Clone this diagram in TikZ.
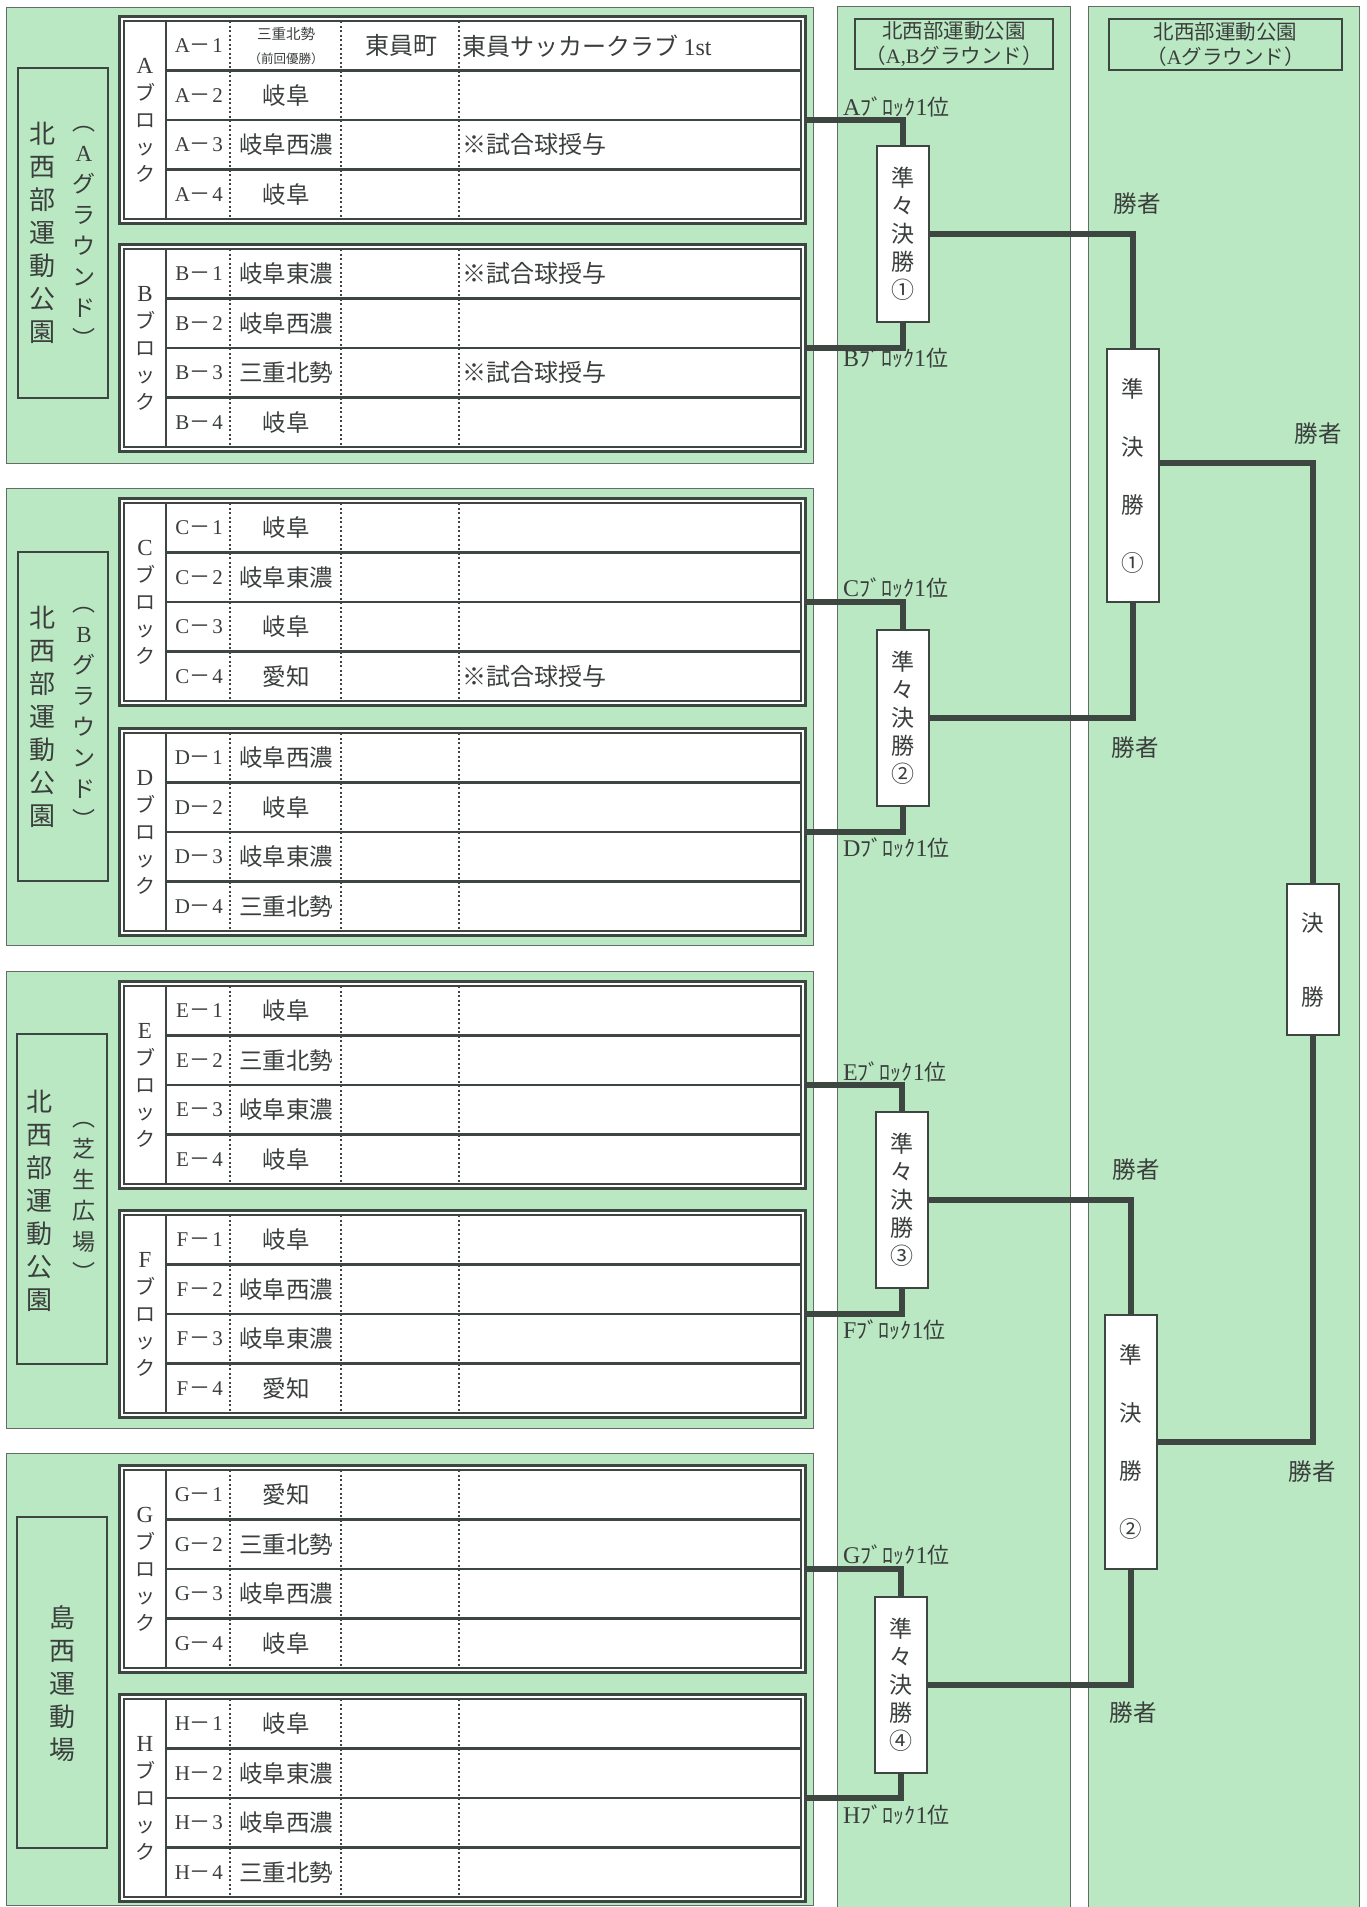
\documentclass[tikz,border=0pt]{standalone}
\usepackage{fontspec}
\setmainfont{Liberation Serif}
\newfontfamily\jp{Noto Sans CJK JP}
\newfontfamily\lat{Liberation Serif}
\definecolor{grn}{RGB}{186,232,195}
\definecolor{lineC}{RGB}{62,70,66}
\definecolor{txtC}{RGB}{58,62,60}
\newcommand{\fw}[1]{\makebox[17.5pt]{#1}}
\tikzset{
  panel/.style={draw=lineC!80, line width=1pt, fill=grn},
  venue/.style={draw=lineC, line width=2.5pt, fill=grn, minimum width=90pt, inner sep=0pt},
  vtxt/.style={font=\jp\fontsize{26}{33}\selectfont, align=center, inner sep=0pt, text=txtC},
  ptxt/.style={font=\jp\fontsize{23}{31}\selectfont, align=center, inner sep=0pt, text=txtC},
  blockframe/.style={draw=lineC, line width=2.6pt, fill=white, minimum width=686pt, minimum height=207pt, inner sep=0pt},
  innerframe/.style={draw=lineC, line width=1.8pt},
  rowline/.style={draw=lineC, line width=2.3pt},
  dotline/.style={draw=lineC, line width=2pt, dash pattern=on 2pt off 2.5pt},
  blklabel/.style={font=\jp\fontsize{20}{27}\selectfont, align=center, inner sep=0pt, text=txtC},
  rowlab/.style={font=\lat\fontsize{21}{21}\selectfont, inner sep=0pt, text=txtC},
  team/.style={font=\jp\fontsize{23.5}{24}\selectfont, align=center, inner sep=0pt, text=txtC},
  celltxt/.style={font=\jp\fontsize{24}{24}\selectfont, inner sep=0pt, text=txtC},
  hdr/.style={draw=lineC, line width=2.8pt, fill=grn, font=\jp\fontsize{20.5}{25}\selectfont, align=center, inner sep=0pt, text=txtC},
  rank/.style={anchor=west, font=\jp\fontsize{22}{22}\selectfont, inner sep=0pt, text=txtC},
  win/.style={font=\jp\fontsize{23.5}{23.5}\selectfont, inner sep=0pt, text=txtC},
  qfbox/.style={draw=lineC, line width=2.5pt, fill=white, minimum width=52pt, minimum height=176pt, inner sep=0pt, font=\jp\fontsize{23}{28}\selectfont, align=center, text=txtC},
  sfbox/.style={draw=lineC, line width=2.5pt, fill=white, minimum width=52pt, inner sep=0pt, font=\jp\fontsize{22.5}{58}\selectfont, align=center, text=txtC},
  finbox/.style={draw=lineC, line width=2.5pt, fill=white, minimum width=52pt, minimum height=151pt, inner sep=0pt, font=\jp\fontsize{22.5}{74}\selectfont, align=center, text=txtC},
  conn/.style={draw=lineC, line width=5.3pt}
}
% block table: #1 name, #2 inner top y, #3 letter, #4-#7 teams
\newcommand{\tblk}[7]{%
  \node[blockframe] (#1) at (462.5,{#2+99}) {};
  \draw[innerframe] (124,#2) rectangle (801,{#2+198});
  \foreach \rr in {1,2,3}{\draw[rowline] (166,{#2+49.5*\rr}) -- (801,{#2+49.5*\rr});}
  \draw[rowline] (166,#2) -- (166,{#2+198});
  \foreach \cc in {230,341,459}{\draw[dotline] (\cc,#2) -- (\cc,{#2+198});}
  \node[blklabel] (#1-lab) at (145,{#2+99}) {\lat\fontsize{23}{27}\selectfont #3\\ブ\\ロ\\ッ\\ク};
  \node[rowlab] (#1-n1) at (200,{#2+24.75}) {\fw{#3}\fw{\jp －}\fw{1}};
  \node[rowlab] (#1-n2) at (200,{#2+74.25}) {\fw{#3}\fw{\jp －}\fw{2}};
  \node[rowlab] (#1-n3) at (200,{#2+123.75}) {\fw{#3}\fw{\jp －}\fw{3}};
  \node[rowlab] (#1-n4) at (200,{#2+173.25}) {\fw{#3}\fw{\jp －}\fw{4}};
  \node[team] (#1-t1) at (286,{#2+24.75}) {#4};
  \node[team] (#1-t2) at (286,{#2+74.25}) {#5};
  \node[team] (#1-t3) at (286,{#2+123.75}) {#6};
  \node[team] (#1-t4) at (286,{#2+173.25}) {#7};
}
\begin{document}
\begin{tikzpicture}[x=1pt,y=-1pt]
\useasboundingbox (0,0) rectangle (1367,1907);
\fill[white] (0,0) rectangle (1367,1907);
% panels
\draw[panel] (6,7) rectangle (813,463);
\draw[panel] (6,488) rectangle (813,945);
\draw[panel] (6,971) rectangle (813,1428);
\draw[panel] (6,1453) rectangle (813,1905);
\draw[panel] (837,6) rectangle (1070,1920);
\draw[panel] (1088,6) rectangle (1359,1920);
% venue boxes
\node[venue, minimum height=330pt] (v1) at (63,233) {};
\node[vtxt] (v1a) at (42,233) {北\\西\\部\\運\\動\\公\\園};
\node[ptxt] (v1b) at (84,237) {︵\\\lat A\\グ\\ラ\\ウ\\ン\\ド\\︶};
\node[venue, minimum height=329pt] (v2) at (63,716.5) {};
\node[vtxt] (v2a) at (42,717) {北\\西\\部\\運\\動\\公\\園};
\node[ptxt] (v2b) at (84,718) {︵\\\lat B\\グ\\ラ\\ウ\\ン\\ド\\︶};
\node[venue, minimum height=330pt] (v3) at (62,1199) {};
\node[vtxt] (v3a) at (40,1201) {北\\西\\部\\運\\動\\公\\園};
\node[ptxt] (v3b) at (84,1202) {︵\\芝\\生\\広\\場\\︶};
\node[venue, minimum height=331pt] (v4) at (62,1682.5) {};
\node[vtxt] (v4a) at (62,1684) {島\\西\\運\\動\\場};
% tables
\tblk{blkA}{21}{A}{\fontsize{14.5}{18.5}\selectfont 三重北勢\\\fontsize{12.5}{18.5}\selectfont（前回優勝）}{岐阜}{岐阜西濃}{岐阜}
\tblk{blkB}{249}{B}{岐阜東濃}{岐阜西濃}{三重北勢}{岐阜}
\tblk{blkC}{503}{C}{岐阜}{岐阜東濃}{岐阜}{愛知}
\tblk{blkD}{733}{D}{岐阜西濃}{岐阜}{岐阜東濃}{三重北勢}
\tblk{blkE}{986}{E}{岐阜}{三重北勢}{岐阜東濃}{岐阜}
\tblk{blkF}{1215}{F}{岐阜}{岐阜西濃}{岐阜東濃}{愛知}
\tblk{blkG}{1470}{G}{愛知}{三重北勢}{岐阜西濃}{岐阜}
\tblk{blkH}{1699}{H}{岐阜}{岐阜東濃}{岐阜西濃}{三重北勢}
% extra cell texts
\node[celltxt] (town) at (401,45.75) {東員町};
\node[celltxt, anchor=west] (club) at (462,45.75) {東員サッカークラブ {\lat 1st}};
\node[celltxt, anchor=west] (ballA3) at (462,144.75) {※試合球授与};
\node[celltxt, anchor=west] (ballB1) at (462,273.75) {※試合球授与};
\node[celltxt, anchor=west] (ballB3) at (462,372.75) {※試合球授与};
\node[celltxt, anchor=west] (ballC4) at (462,676.25) {※試合球授与};
% headers
\node[hdr, minimum width=198pt, minimum height=50pt] (h1) at (954,44) {北西部運動公園\\（{\lat A,B}グラウンド）};
\node[hdr, minimum width=233pt, minimum height=51pt] (h2) at (1225.5,44.5) {北西部運動公園\\（{\lat A}グラウンド）};
% bracket boxes
\node[qfbox] (qf1) at (903,234) {準\\々\\決\\勝\\①};
\node[qfbox] (qf2) at (903,718) {準\\々\\決\\勝\\②};
\node[qfbox] (qf3) at (902,1200) {準\\々\\決\\勝\\③};
\node[qfbox] (qf4) at (901,1685) {準\\々\\決\\勝\\④};
\node[sfbox, minimum height=253pt] (sf1) at (1133,475.5) {準\\決\\勝\\①};
\node[sfbox, minimum height=254pt] (sf2) at (1131,1442) {準\\決\\勝\\②};
\node[finbox] (fin) at (1313,959.5) {決\\勝};
% connectors
\draw[conn] (blkA.east) -| (qf1.north);
\draw[conn] (blkB.east) -| (qf1.south);
\draw[conn] (blkC.east) -| (qf2.north);
\draw[conn] (blkD.east) -| (qf2.south);
\draw[conn] (blkE.east) -| (qf3.north);
\draw[conn] (blkF.east) -| (qf3.south);
\draw[conn] (blkG.east) -| (qf4.north);
\draw[conn] (blkH.east) -| (qf4.south);
\draw[conn] (qf1.east) -| (sf1.north);
\draw[conn] (qf2.east) -| (sf1.south);
\draw[conn] (qf3.east) -| (sf2.north);
\draw[conn] (qf4.east) -| (sf2.south);
\draw[conn] ([yshift=12.5pt]sf1.east) -| (fin.north);
\draw[conn] (sf2.east) -| (fin.south);
% rank labels
\node[rank] (rA) at (843,107) {{\lat\fontsize{24}{24}\selectfont A}ﾌﾞﾛｯｸ{\lat\fontsize{24}{24}\selectfont 1}位};
\node[rank] (rB) at (843,358) {{\lat\fontsize{24}{24}\selectfont B}ﾌﾞﾛｯｸ{\lat\fontsize{24}{24}\selectfont 1}位};
\node[rank] (rC) at (843,588) {{\lat\fontsize{24}{24}\selectfont C}ﾌﾞﾛｯｸ{\lat\fontsize{24}{24}\selectfont 1}位};
\node[rank] (rD) at (843,848) {{\lat\fontsize{24}{24}\selectfont D}ﾌﾞﾛｯｸ{\lat\fontsize{24}{24}\selectfont 1}位};
\node[rank] (rE) at (843,1072) {{\lat\fontsize{24}{24}\selectfont E}ﾌﾞﾛｯｸ{\lat\fontsize{24}{24}\selectfont 1}位};
\node[rank] (rF) at (843,1330) {{\lat\fontsize{24}{24}\selectfont F}ﾌﾞﾛｯｸ{\lat\fontsize{24}{24}\selectfont 1}位};
\node[rank] (rG) at (843,1555) {{\lat\fontsize{24}{24}\selectfont G}ﾌﾞﾛｯｸ{\lat\fontsize{24}{24}\selectfont 1}位};
\node[rank] (rH) at (843,1815) {{\lat\fontsize{24}{24}\selectfont H}ﾌﾞﾛｯｸ{\lat\fontsize{24}{24}\selectfont 1}位};
% winner labels
\node[win] (w1) at (1137,204) {勝者};
\node[win] (w2) at (1135,748) {勝者};
\node[win] (w3) at (1136,1170) {勝者};
\node[win] (w4) at (1133,1713) {勝者};
\node[win] (w5) at (1318,434) {勝者};
\node[win] (w6) at (1312,1472) {勝者};
\end{tikzpicture}
\end{document}
